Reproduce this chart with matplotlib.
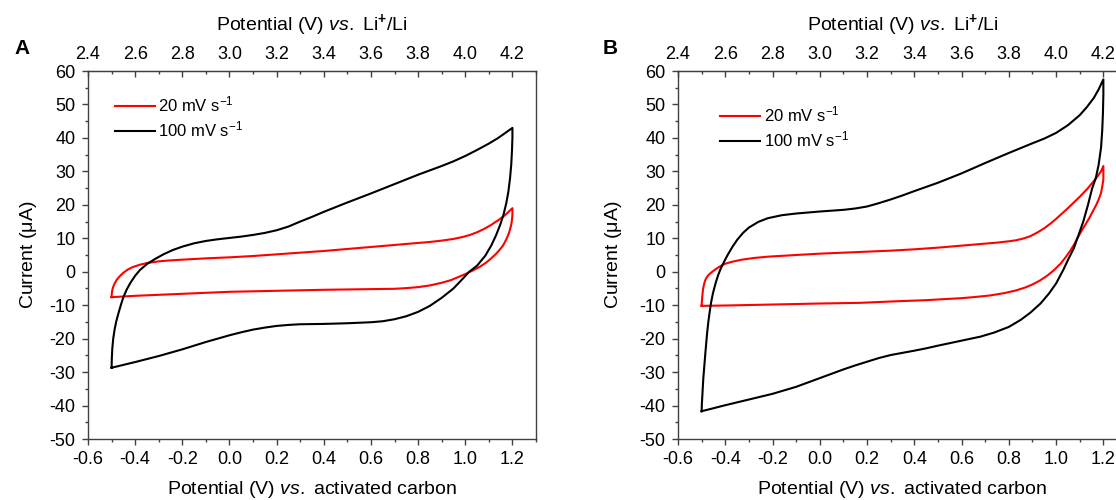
import matplotlib.pyplot as plt
from matplotlib.ticker import MultipleLocator

plt.rcParams['font.family'] = 'Liberation Sans'
plt.rcParams['mathtext.fontset'] = 'custom'
plt.rcParams['mathtext.rm'] = 'Liberation Sans'
plt.rcParams['mathtext.it'] = 'Liberation Sans:italic'
plt.rcParams['mathtext.bf'] = 'Liberation Sans:bold'
plt.rcParams['axes.unicode_minus'] = False

labels = [r'20 mV s$^{-1}$', r'100 mV s$^{-1}$']
offset = 3.0  # V vs Li+/Li = V vs AC + 3.0

# panel A, 20 mV/s (forward sweep then reverse)
a20_v = [-0.5, -0.499, -0.497, -0.493, -0.487, -0.478, -0.465, -0.45, -0.43, -0.41, -0.38, -0.35, -0.3,
         -0.25, -0.2, -0.1, 0.0, 0.1, 0.2, 0.3, 0.4, 0.5, 0.6, 0.7, 0.8, 0.85, 0.9, 0.95, 0.99, 1.02, 1.05,
         1.08, 1.11, 1.14, 1.17, 1.2,
         1.2, 1.198, 1.195, 1.19, 1.185, 1.175, 1.16, 1.145, 1.13, 1.11, 1.09, 1.06, 1.03, 1.0, 0.97, 0.94,
         0.9, 0.85, 0.8, 0.75, 0.7, 0.6, 0.4, 0.2, 0.0, -0.2, -0.4, -0.5]
a20_i = [-7.6, -6.5, -5.5, -4.5, -3.5, -2.4, -1.3, -0.3, 0.7, 1.4, 2.1, 2.6, 3.1,
         3.4, 3.6, 4.0, 4.3, 4.7, 5.2, 5.7, 6.2, 6.8, 7.4, 8.0, 8.6, 8.9, 9.3, 9.8, 10.4, 11.0, 11.8,
         12.8, 14.0, 15.4, 17.0, 19.0,
         17.0, 15.5, 14.0, 12.7, 11.5, 9.8, 7.8, 6.5, 5.3, 4.0, 2.8, 1.4, 0.3, -0.7, -1.6, -2.5,
         -3.3, -4.1, -4.6, -4.9, -5.1, -5.2, -5.4, -5.7, -6.0, -6.6, -7.2, -7.6]

# panel A, 100 mV/s
a100_v = [-0.5, -0.499, -0.497, -0.493, -0.487, -0.48, -0.47, -0.46, -0.45, -0.435, -0.42, -0.40, -0.38,
          -0.35, -0.316, -0.28, -0.24, -0.2, -0.15, -0.1, -0.05, 0.0, 0.05, 0.1, 0.15, 0.2, 0.25, 0.3, 0.35,
          0.4, 0.45, 0.5, 0.6, 0.7, 0.8, 0.9, 0.95, 1.0, 1.05, 1.1, 1.14, 1.17, 1.2,
          1.2, 1.198, 1.195, 1.19, 1.183, 1.174, 1.162, 1.148, 1.13, 1.11, 1.085, 1.05, 1.017, 0.98, 0.95,
          0.9, 0.85, 0.8, 0.75, 0.7, 0.65, 0.6, 0.5, 0.4, 0.3, 0.25, 0.2, 0.15, 0.1, 0.05, 0.0, -0.1, -0.2,
          -0.3, -0.4, -0.5]
a100_i = [-28.7, -26.0, -23.0, -20.0, -17.2, -14.8, -12.2, -9.8, -7.6, -5.2, -3.3, -1.2, 0.5,
          2.3, 3.8, 5.2, 6.5, 7.5, 8.5, 9.2, 9.7, 10.1, 10.5, 11.0, 11.6, 12.4, 13.5, 15.0, 16.4,
          17.9, 19.3, 20.7, 23.4, 26.2, 29.0, 31.6, 33.0, 34.6, 36.4, 38.3, 40.0, 41.5, 43.0,
          40.0, 36.0, 32.0, 28.0, 24.0, 20.5, 17.0, 14.0, 10.8, 7.8, 4.8, 1.8, 0.0, -2.8, -5.0,
          -7.8, -10.2, -12.0, -13.3, -14.2, -14.8, -15.1, -15.4, -15.6, -15.7, -15.9, -16.2, -16.7, -17.3,
          -18.1, -19.0, -21.0, -23.2, -25.2, -27.0, -28.7]

# panel B, 20 mV/s
b20_v = [-0.5, -0.499, -0.498, -0.496, -0.494, -0.49, -0.485, -0.478, -0.47, -0.455, -0.44, -0.42, -0.4,
         -0.37, -0.33, -0.28, -0.22, -0.1, 0.0, 0.1, 0.2, 0.3, 0.4, 0.5, 0.6, 0.7, 0.75, 0.8, 0.83, 0.86,
         0.89, 0.92, 0.95, 0.98, 1.0, 1.05, 1.1, 1.13, 1.15, 1.17, 1.19, 1.2,
         1.2, 1.195, 1.19, 1.18, 1.17, 1.155, 1.14, 1.125, 1.11, 1.09, 1.075, 1.06, 1.04, 1.02, 0.99, 0.96,
         0.93, 0.9, 0.87, 0.83, 0.78, 0.72, 0.65, 0.6, 0.45, 0.3, 0.17, 0.0, -0.2, -0.4, -0.5]
b20_i = [-10.2, -9.0, -8.0, -6.5, -5.2, -3.8, -2.6, -1.6, -0.9, 0.0, 0.8, 1.7, 2.4,
         3.0, 3.6, 4.1, 4.5, 5.0, 5.4, 5.7, 6.0, 6.3, 6.7, 7.2, 7.8, 8.4, 8.7, 9.1, 9.4, 9.9,
         10.6, 11.7, 13.0, 14.6, 15.8, 19.0, 22.4, 24.6, 26.3, 28.0, 30.0, 31.6,
         27.5, 25.4, 23.5, 21.6, 20.0, 18.0, 16.0, 14.2, 12.5, 10.0, 8.0, 6.3, 4.3, 2.5, 0.4, -1.3,
         -2.7, -3.8, -4.7, -5.6, -6.4, -7.1, -7.6, -7.9, -8.5, -8.9, -9.3, -9.5, -9.8, -10.1, -10.2]

# panel B, 100 mV/s
b100_v = [-0.5, -0.499, -0.497, -0.495, -0.493, -0.489, -0.485, -0.481, -0.477, -0.472, -0.466, -0.46,
          -0.452, -0.44, -0.43, -0.42, -0.405, -0.39, -0.37, -0.35, -0.325, -0.3, -0.26, -0.22, -0.16,
          -0.1, 0.0, 0.1, 0.15, 0.2, 0.25, 0.3, 0.35, 0.4, 0.5, 0.6, 0.7, 0.8, 0.9, 0.95, 1.0, 1.05, 1.1,
          1.13, 1.16, 1.18, 1.2,
          1.2, 1.198, 1.195, 1.19, 1.18, 1.168, 1.152, 1.135, 1.115, 1.095, 1.075, 1.05, 1.03, 1.0, 0.97,
          0.934, 0.89, 0.85, 0.8, 0.737, 0.68, 0.6, 0.5, 0.45, 0.4, 0.3, 0.25, 0.2, 0.15, 0.1, 0.05, 0.0,
          -0.1, -0.2, -0.3, -0.4, -0.5]
b100_i = [-41.7, -39.5, -37.0, -34.5, -32.0, -28.5, -25.0, -21.7, -18.5, -15.2, -12.0, -9.2,
          -6.4, -3.2, -1.0, 0.8, 3.0, 5.0, 7.4, 9.5, 11.6, 13.2, 14.9, 16.0, 16.9,
          17.4, 18.0, 18.5, 18.9, 19.5, 20.5, 21.6, 22.8, 24.1, 26.6, 29.4, 32.5, 35.5, 38.4, 39.8, 41.5,
          43.8, 46.8, 49.2, 52.0, 54.5, 57.5,
          53.0, 47.0, 42.0, 37.0, 32.0, 28.0, 24.8, 20.0, 15.0, 11.0, 7.0, 3.5, 0.5, -3.5, -6.5,
          -9.5, -12.3, -14.4, -16.5, -18.2, -19.4, -20.6, -22.1, -22.9, -23.6, -24.9, -25.8, -26.9, -28.0,
          -29.2, -30.5, -31.8, -34.4, -36.5, -38.2, -39.9, -41.7]

spine_col = '#404040'

fig = plt.figure(figsize=(11.16, 5.0), dpi=100)
ax_a = fig.add_axes([88/1116, 61/500, 448/1116, 368/500])
ax_b = fig.add_axes([678/1116, 61/500, 449/1116, 368/500])


def setup(ax, v20, i20, v100, i100, leg_xy, ylab_x):
    ax.plot(v20, i20, color='red', lw=1.5, label=labels[0])
    ax.plot(v100, i100, color='black', lw=1.5, label=labels[1])
    ax.set_xlim(-0.6, 1.3)
    ax.set_ylim(-50, 60)
    ax.xaxis.set_minor_locator(MultipleLocator(0.1))
    ax.yaxis.set_major_locator(MultipleLocator(10))
    ax.yaxis.set_minor_locator(MultipleLocator(5))
    ax.set_xticks([-0.6, -0.4, -0.2, 0.0, 0.2, 0.4, 0.6, 0.8, 1.0, 1.2])
    for s in ax.spines.values():
        s.set_color(spine_col)
        s.set_linewidth(1.0)
    ax.tick_params(which='both', direction='out', color=spine_col, width=1.0, labelsize=13,
                   top=False, right=False)
    ax.tick_params(which='major', length=4, pad=5)
    ax.tick_params(which='minor', length=2.2)
    ax.set_xlabel(r'Potential (V) $\mathit{vs.}$ activated carbon', fontsize=14)
    ax.xaxis.set_label_coords(0.5, -0.108)
    ax.set_ylabel(r'Current ($\mathrm{\mu}$A)', fontsize=14)
    ax.yaxis.set_label_coords(ylab_x, 0.5)

    sec = ax.secondary_xaxis('top', functions=(lambda x: x + offset, lambda x: x - offset))
    sec.set_xticks([2.4, 2.6, 2.8, 3.0, 3.2, 3.4, 3.6, 3.8, 4.0, 4.2])
    sec.xaxis.set_minor_locator(MultipleLocator(0.1))
    sec.spines['top'].set_color(spine_col)
    sec.tick_params(which='both', direction='in', color=spine_col, width=1.0, labelsize=13)
    sec.tick_params(which='major', length=4, pad=6)
    sec.tick_params(which='minor', length=2.2)
    sec.set_xlabel(r'Potential (V) $\mathit{vs.}$ Li$^{\mathbf{+}}$/Li', fontsize=14, labelpad=11)

    ax.legend(loc='upper left', bbox_to_anchor=leg_xy, frameon=False, fontsize=12,
              handlelength=2.4, handletextpad=0.2, labelspacing=0.3, borderpad=0, borderaxespad=0)


setup(ax_a, a20_v, a20_i, a100_v, a100_i, (0.06, 0.935), -0.11)
setup(ax_b, b20_v, b20_i, b100_v, b100_i, (0.094, 0.908), -0.12)

fig.text(22/1116, 1 - 48/500, 'A', fontsize=15, fontweight='bold', ha='center', va='center')
fig.text(610/1116, 1 - 48/500, 'B', fontsize=15, fontweight='bold', ha='center', va='center')

fig.savefig('out.png', dpi=100)
